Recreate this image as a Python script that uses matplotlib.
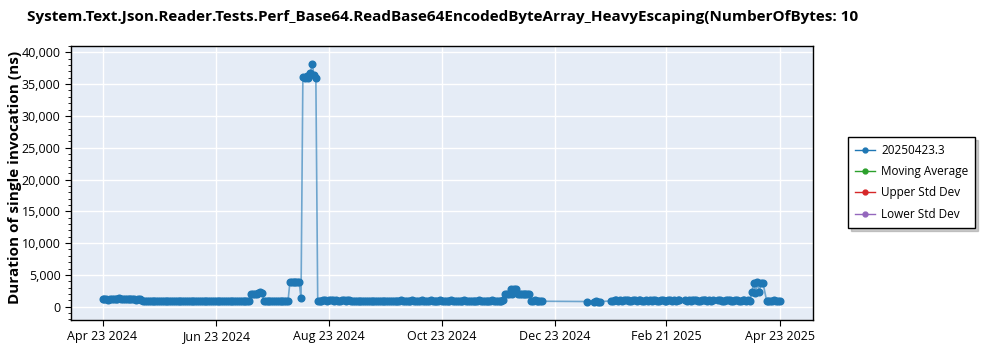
import numpy as np
import matplotlib.pyplot as plt
import matplotlib.dates as mdates
from matplotlib.ticker import FuncFormatter, MultipleLocator
from matplotlib.lines import Line2D

plt.rcParams['font.family'] = ['Open Sans', 'DejaVu Sans']

start = np.datetime64('2024-04-23')

# daily runs of duration (ns); each run starts at run_starts[i] days after Apr 23 2024
run_starts = [0, 22, 80, 87, 101, 107, 108, 116, 217, 231, 261, 265, 274, 314, 332, 350, 358]

run_01 = [1180, 1150, 1230, 1120, 1200, 1160, 1250, 1190, 1140, 1300, 1210,
          1170, 1260, 1150, 1200, 1130, 1280, 1140, 1120, 1260, 1150, 1100]
run_02 = [930, 910, 900, 880, 890, 910, 870, 880, 890, 860,
          870, 880, 850, 860, 870, 840, 860, 870, 880, 850,
          860, 870, 840, 850, 860, 850, 870, 860, 840, 850,
          860, 870, 840, 860, 850, 880, 860, 870, 850, 840,
          860, 870, 850, 860, 880, 870, 850, 860, 870, 880,
          860, 870, 900, 880, 870, 890, 880, 900]
run_03 = [1950, 2000, 1950, 2000, 2200, 2250, 2200]
run_04 = [900, 880, 870, 890, 860, 880, 900, 870, 890, 880, 860, 870, 890, 900]
run_05 = [3850, 3800, 3900, 3850, 3820, 3880]
run_06 = [1320]
run_07 = [36100, 35900, 36300, 36000, 36700, 38200, 36400, 36000]
run_08 = [900, 950, 920, 980, 1000, 960, 1010, 970, 990, 950,
          1000, 960, 930, 1050, 980, 950, 1000, 970, 940, 960,
          920, 900, 880, 870, 900, 860, 850, 870, 840, 860,
          880, 850, 870, 860, 840, 850, 830, 860, 850, 840,
          870, 860, 850, 880, 860, 1050, 880, 900, 870, 890,
          880, 1080, 870, 890, 900, 880, 1100, 900, 870, 920,
          900, 1050, 880, 900, 870, 890, 1100, 890, 860, 880,
          900, 870, 1050, 870, 890, 860, 880, 920, 900, 1100,
          900, 880, 890, 900, 870, 880, 900, 1050, 890, 880,
          870, 900, 880, 890, 1080, 900, 880, 870, 890, 900,
          1100]
run_09 = [1950, 2000, 1950, 2750, 2000, 2700, 2750, 1950, 2000, 1950, 2000, 1950, 2000, 2000]
run_10 = [950, 900, 1000, 920, 900, 880, 850]
run_11 = [800]
run_12 = [800, 830, 810, 790]
run_13 = [900, 950, 1000, 980, 960, 1010, 950, 990, 970, 1000,
          960, 950, 1020, 980, 940, 970, 1000, 960, 950, 990,
          960, 1000, 950, 980, 1010, 960, 950, 980, 1000, 960,
          950, 990, 970, 940, 980, 960, 990, 1000]
run_14 = [980, 960, 1000, 950, 990, 970, 1010, 960, 950, 980, 1000, 970, 960, 990, 950, 980]
run_15 = [970, 1000, 960, 950, 990, 980, 1010, 960, 950, 980, 1000, 960, 950, 990, 970, 940, 980, 960]
run_16 = [2250, 3750, 2200, 3800, 2300, 3700, 3750]
run_17 = [950, 920, 960, 940, 970, 950, 930, 960]

runs = [run_01, run_02, run_03, run_04, run_05, run_06, run_07, run_08, run_09,
        run_10, run_11, run_12, run_13, run_14, run_15, run_16, run_17]

legend_labels = ['20250423.3', 'Moving Average', 'Upper Std Dev', 'Lower Std Dev']
legend_colors = ['#1f77b4', '#2ca02c', '#d62728', '#9467bd']

tick_dates = ['2024-04-23', '2024-06-23', '2024-08-23', '2024-10-23',
              '2024-12-23', '2025-02-21', '2025-04-23']

title = 'System.Text.Json.Reader.Tests.Perf_Base64.ReadBase64EncodedByteArray_HeavyEscaping(NumberOfBytes: 10'

dates = []
durations = []
for s, vals in zip(run_starts, runs):
    for i, v in enumerate(vals):
        dates.append(start + np.timedelta64(s + i, 'D'))
        durations.append(v)
dates = np.array(dates)

fig = plt.figure(figsize=(10, 3.5), dpi=100)
ax = fig.add_axes([0.071, 0.0857, 0.742, 0.7829])
ax.set_facecolor('#e5ecf6')

ax.plot(dates, durations, color='#1f77b4', lw=1.2, alpha=0.6, zorder=3)
ax.plot(dates, durations, 'o', color='#1f77b4', ms=4.8, zorder=4)

ax.set_xlim(start - np.timedelta64(17, 'D'), start + np.timedelta64(383, 'D'))
ax.set_ylim(-2100, 41000)

ax.set_xticks([np.datetime64(d) for d in tick_dates])
ax.xaxis.set_major_formatter(mdates.DateFormatter('%b %d %Y'))
ax.yaxis.set_major_locator(MultipleLocator(5000))
ax.yaxis.set_minor_locator(MultipleLocator(1000))
ax.yaxis.set_major_formatter(FuncFormatter(lambda v, p: f'{int(v):,}'))

ax.grid(True, which='major', color='white', lw=1, zorder=0)
ax.set_axisbelow(True)
ax.tick_params(axis='both', which='major', labelsize=9, length=4, color='black')
ax.tick_params(axis='y', which='minor', length=2, color='black')
for s in ax.spines.values():
    s.set_color('black')
    s.set_linewidth(1)

ax.set_ylabel('Duration of single invocation (ns)', fontsize=11, fontweight='bold')
ax.yaxis.set_label_coords(-0.066, 0.52)
fig.text(0.027, 0.95, title, fontsize=11, fontweight='bold', ha='left', va='center')

handles = [Line2D([0], [0], color=c, lw=1, marker='o', ms=3.5) for c in legend_colors]
fig.legend(handles, legend_labels, loc='upper left', bbox_to_anchor=(0.848, 0.609),
           fontsize=8.5, frameon=True, fancybox=False, edgecolor='black',
           shadow={'ox': 2, 'oy': -2, 'shade': 0.4}, framealpha=1,
           handlelength=1.7, handletextpad=0.5, labelspacing=0.7,
           borderpad=0.6, borderaxespad=0)

fig.savefig('out.png', dpi=100)
